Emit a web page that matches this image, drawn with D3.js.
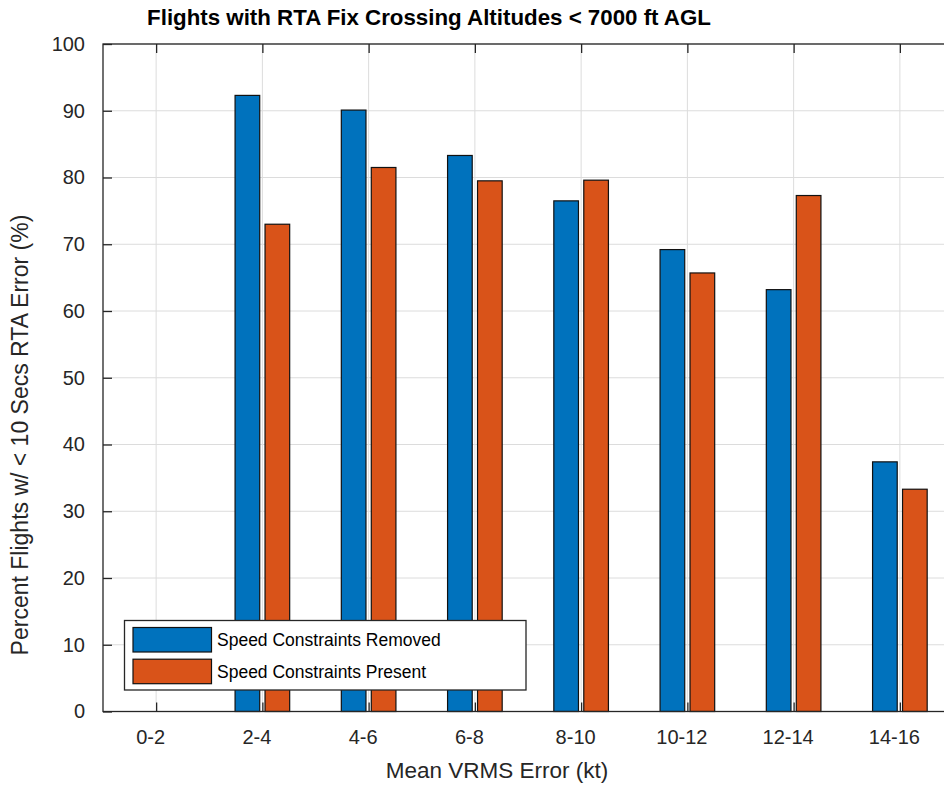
<!DOCTYPE html>
<html>
<head>
<meta charset="utf-8">
<script src="https://cdn.jsdelivr.net/npm/d3@7/dist/d3.min.js"></script>
<style>
  html, body { margin: 0; padding: 0; background: #fff; }
  svg { display: block; font-family: "Liberation Sans", Arial, Helvetica, sans-serif; }
</style>
</head>
<body>
<svg id="chart" width="944" height="785"></svg>
<script>
// ---- data ----
const categories = ["0-2", "2-4", "4-6", "6-8", "8-10", "10-12", "12-14", "14-16"];
const removedValues = [0, 92.3, 90.1, 83.3, 76.5, 69.2, 63.2, 37.4];
const presentValues = [0, 73.0, 81.5, 79.5, 79.6, 65.7, 77.3, 33.3];
const seriesNames = ["Speed Constraints Removed", "Speed Constraints Present"];
const seriesColors = ["#0072BD", "#D95319"];
const yTicks = [0, 10, 20, 30, 40, 50, 60, 70, 80, 90, 100];
const titleText = "Flights with RTA Fix Crossing Altitudes < 7000 ft AGL";
const xLabelText = "Mean VRMS Error (kt)";
const yLabelText = "Percent Flights w/ < 10 Secs RTA Error (%)";

// ---- layout ----
const svg = d3.select("#chart");
const pLeft = 103, pRight = 953, pTop = 44, pBottom = 711.5;
const axisColor = "#262626";
const gridColor = "#dcdcdc";

const x = d3.scaleLinear().domain([0.5, categories.length + 0.5]).range([pLeft, pRight]);
const y = d3.scaleLinear().domain([0, 100]).range([pBottom, pTop]);

const barOffset = 0.141; // in category units
const barWidth = 0.232;

// grid
const grid = svg.append("g");
grid.selectAll("line.gx").data(categories).enter().append("line")
  .attr("x1", (d, i) => x(i + 1)).attr("x2", (d, i) => x(i + 1))
  .attr("y1", pTop).attr("y2", pBottom)
  .attr("stroke", gridColor).attr("stroke-width", 1);
grid.selectAll("line.gy").data(yTicks).enter().append("line")
  .attr("x1", pLeft).attr("x2", pRight)
  .attr("y1", d => y(d)).attr("y2", d => y(d))
  .attr("stroke", gridColor).attr("stroke-width", 1);

// bars
const series = [removedValues, presentValues];
series.forEach((vals, s) => {
  const off = s === 0 ? -barOffset : barOffset;
  svg.append("g").selectAll("rect").data(vals).enter().append("rect")
    .attr("x", (d, i) => x(i + 1 + off - barWidth / 2))
    .attr("width", x(1 + barWidth) - x(1))
    .attr("y", d => y(d))
    .attr("height", d => y(0) - y(d))
    .attr("fill", seriesColors[s])
    .attr("stroke", d => d > 0 ? "#111" : "none")
    .attr("stroke-width", 1.2);
});

// axes
const tickLen = 9;
const axG = svg.append("g");
axG.append("rect").attr("x", pLeft).attr("y", pTop).attr("width", pRight - pLeft).attr("height", pBottom - pTop)
  .attr("fill", "none").attr("stroke", axisColor).attr("stroke-width", 1.3);

// left y axis
const yAxis = d3.axisLeft(y).tickValues(yTicks).tickSize(-tickLen).tickPadding(tickLen + 9).tickFormat(d3.format("d"));
const yg = svg.append("g").attr("transform", `translate(${pLeft},0)`).call(yAxis);
yg.select(".domain").remove();
yg.selectAll(".tick line").attr("stroke", axisColor).attr("stroke-width", 1.3);
yg.selectAll(".tick text").attr("fill", axisColor).style("font-size", "20px")
  .style("font-family", '"Liberation Sans", Arial, sans-serif');

// right ticks
const yr = svg.append("g").attr("transform", `translate(${pRight},0)`)
  .call(d3.axisRight(y).tickValues(yTicks).tickSize(-tickLen).tickFormat(""));
yr.select(".domain").remove();
yr.selectAll(".tick line").attr("stroke", axisColor).attr("stroke-width", 1.3);

// bottom x axis
const xAxis = d3.axisBottom(x).tickValues(d3.range(1, categories.length + 1))
  .tickSize(-tickLen).tickPadding(tickLen + 9).tickFormat(i => categories[i - 1]);
const xg = svg.append("g").attr("transform", `translate(0,${pBottom})`).call(xAxis);
xg.select(".domain").remove();
xg.selectAll(".tick line").attr("stroke", axisColor).attr("stroke-width", 1.3);
xg.selectAll(".tick text").attr("fill", axisColor).attr("dx", -6).style("font-size", "20px")
  .style("font-family", '"Liberation Sans", Arial, sans-serif');

// top ticks
const xt = svg.append("g").attr("transform", `translate(0,${pTop})`)
  .call(d3.axisTop(x).tickValues(d3.range(1, categories.length + 1)).tickSize(-tickLen).tickFormat(""));
xt.select(".domain").remove();
xt.selectAll(".tick line").attr("stroke", axisColor).attr("stroke-width", 1.3);

// title
svg.append("text").attr("x", 429).attr("y", 25).attr("text-anchor", "middle")
  .attr("font-weight", "bold").attr("font-size", 22.3).attr("fill", "#000").text(titleText);

// x label
svg.append("text").attr("x", 497).attr("y", 778).attr("text-anchor", "middle")
  .attr("font-size", 22.5).attr("fill", axisColor).text(xLabelText);

// y label
svg.append("text").attr("transform", "translate(28,435) rotate(-90)").attr("text-anchor", "middle")
  .attr("font-size", 23).attr("fill", axisColor).text(yLabelText);

// legend
const lg = svg.append("g");
lg.append("rect").attr("x", 124.5).attr("y", 620.5).attr("width", 401.5).attr("height", 69.5)
  .attr("fill", "#fff").attr("stroke", axisColor).attr("stroke-width", 1.3);
seriesNames.forEach((name, i) => {
  const yy = 627.5 + i * 31.7;
  lg.append("rect").attr("x", 133).attr("y", yy).attr("width", 78.5).attr("height", 24.5)
    .attr("fill", seriesColors[i]).attr("stroke", "#111").attr("stroke-width", 1.2);
  lg.append("text").attr("x", 217).attr("y", yy + 12.5).attr("dy", "0.35em")
    .attr("font-size", 17.5).attr("fill", "#000").text(name);
});
</script>
</body>
</html>
